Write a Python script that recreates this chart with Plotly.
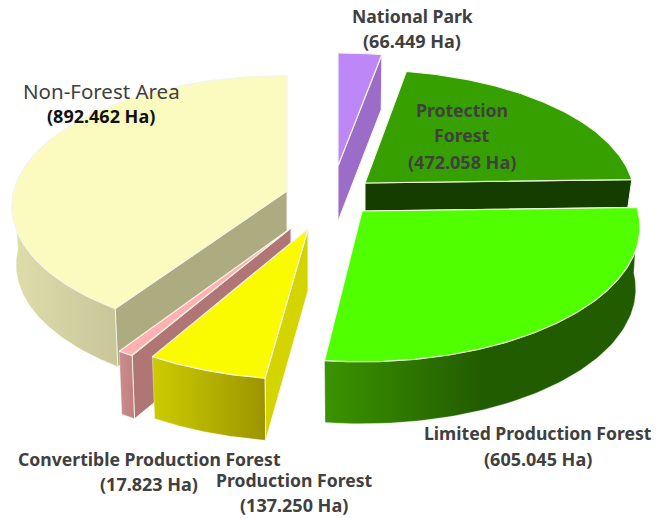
import numpy as np
import plotly.graph_objects as go

# ---- data ----
categories = ["National Park", "Protection Forest", "Limited Production Forest",
              "Production Forest", "Convertible Production Forest", "Non-Forest Area"]
values = [66.449, 472.058, 605.045, 137.250, 17.823, 892.462]

# ---- projection / layout of the 3D exploded pie ----
CX, CY = 320, 200
RX, RY, PERSP = 276, 133, 0.118
SHRINK = 0.985
pull_x = [18, 45, 42, -12, -29, -33]
pull_y = [-34, -17, 11, 29, 28, -9]
scale_x = [1.0, 0.97, 1.0, 1.0, 1.02, 0.99]
scale_y = [0.95, 0.95, 1.0, 1.0, 1.0, 0.97]
depth = [55, 28, 62, 62, 63, 58]
nudge_start = [0, -1.0, 0, 0, 0, 1.2]
nudge_end = [-0.7, 0, -1.0, 0, 0, 0]

top_col = ["#BE87F8", "#35A000", "#50FF00", "#FBFB00", "#FFB0B0", "#FBFBC0"]
face_col = ["#9B6CC8", "#153D00", None, "#D4D400", "#B07575", "#ADAB80"]
face_edge = ["end", "end", None, "start", "start", "start"]
wall_cols = [None, None, ["#3A9400", "#225C00", "#225C00"], ["#CCCC00", "#9C9400"],
             ["#CC8C8C", "#C08080"], ["#DEDDAA", "#C8C69A"]]
draw_order = [5, 0, 1, 2, 4, 3]
EDGE = "#F4F4E8"

total = sum(values)
sweeps = [v / total * 360 for v in values]
starts = np.cumsum([0] + sweeps[:-1])

fig = go.Figure()


def proj(i, deg):
    t = np.radians(deg)
    s, c = np.sin(t), np.cos(t)
    w = 1 / (1 + PERSP * c)
    ax, ay = CX + pull_x[i], CY + pull_y[i]
    return ax + RX * scale_x[i] * s * w, ay - RY * scale_y[i] * c * w


def poly(x, y, fill=None, grad=None, line=EDGE, lw=1.0):
    kw = dict(x=list(x), y=list(y), mode="lines", fill="toself",
              line=dict(color=line, width=lw), hoverinfo="skip", showlegend=False)
    if grad:
        n = len(grad) - 1
        kw["fillgradient"] = dict(type="horizontal",
                                  colorscale=[[k / n, g] for k, g in enumerate(grad)])
    else:
        kw["fillcolor"] = fill
    fig.add_trace(go.Scatter(**kw))


for i in draw_order:
    a0, a1 = starts[i] + nudge_start[i], starts[i] + sweeps[i] + nudge_end[i]
    ax, ay = CX + pull_x[i], CY + pull_y[i]
    d = depth[i]
    # outer wall: near half of the rim only
    lo, hi = max(a0, 90), min(a1, 270)
    if wall_cols[i] and hi > lo:
        th = np.linspace(lo, hi, 80)
        tx, ty = proj(i, th)
        bx = ax + (tx - ax) * SHRINK
        by = ty + d
        poly(np.r_[tx, bx[::-1], tx[0]], np.r_[ty, by[::-1], ty[0]],
             grad=wall_cols[i], line="rgba(255,255,255,0.6)", lw=0.6)
    # radial face
    if face_col[i]:
        ang = a1 if face_edge[i] == "end" else a0
        ex, ey = proj(i, ang)
        ex2 = ax + (ex - ax) * SHRINK
        poly([ax, ex, ex2, ax, ax], [ay, ey, ey + d, ay + d, ay], fill=face_col[i])
    # top surface
    th = np.linspace(a0, a1, 120)
    tx, ty = proj(i, th)
    poly(np.r_[ax, tx, ax], np.r_[ay, ty, ay], fill=top_col[i], lw=1.2)

# ---- labels ----
FONT = "Noto Sans"
NAME_SIZE, VALUE_SIZE = 17.6, 18
label_lines = [
    (["National Park"], 0, 412, [16, 41], "#404040"),
    (["Protection", "Forest"], 1, 462, [110, 135, 162], "#404040"),
    (["Limited Production Forest"], 2, 538, [433, 459], "#404040"),
    (["Production Forest"], 3, 294, [480, 505], "#404040"),
    (["Convertible Production Forest"], 4, 149, [459, 484], "#404040"),
]
for lines, idx, xc, ys, col in label_lines:
    for t, y in zip(lines, ys):
        fig.add_annotation(x=xc, y=y, text=f"<b>{t}</b>", showarrow=False,
                           xref="x", yref="y", xanchor="center", yanchor="middle",
                           font=dict(family=FONT, size=NAME_SIZE, color=col))
    fig.add_annotation(x=xc, y=ys[-1], text=f"<b>({values[idx]:.3f} Ha)</b>", showarrow=False,
                       xref="x", yref="y", xanchor="center", yanchor="middle",
                       font=dict(family=FONT, size=VALUE_SIZE, color=col))
fig.add_annotation(x=101, y=91, text=categories[5], showarrow=False, xref="x", yref="y",
                   font=dict(family=FONT, size=20.5, color="#404040"))
fig.add_annotation(x=101, y=116, text=f"<b>({values[5]:.3f} Ha)</b>", showarrow=False,
                   xref="x", yref="y", font=dict(family=FONT, size=VALUE_SIZE, color="#111111"))

fig.update_layout(width=657, height=519, margin=dict(l=0, r=0, t=0, b=0),
                  paper_bgcolor="white", plot_bgcolor="white",
                  xaxis=dict(range=[0, 657], visible=False, fixedrange=True),
                  yaxis=dict(range=[519, 0], visible=False, fixedrange=True),
                  showlegend=False)
fig.write_html("out.html", config={"displayModeBar": False},
               post_script="document.body.style.margin='0';document.documentElement.style.overflow='hidden';")
